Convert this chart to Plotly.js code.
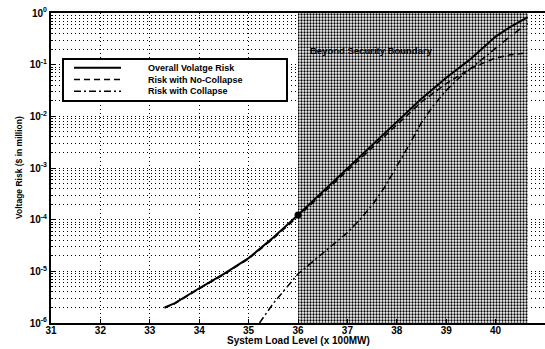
<!DOCTYPE html>
<html>
<head>
<meta charset="utf-8">
<script src="https://cdn.plot.ly/plotly-3.0.1.min.js"></script>
<style>html,body{margin:0;padding:0;background:#fff;}#chart{width:545px;height:349px;}</style>
</head>
<body>
<div id="chart"></div>
<script>
// ---- data ----
const seriesNames = ["Overall Volatge Risk", "Risk with No-Collapse", "Risk with Collapse"];

const xOverall = [33.3, 33.5, 34, 34.5, 35, 35.5, 36, 36.5, 37, 37.5, 38, 38.5, 39, 39.5, 40, 40.3, 40.65];
const yOverall = [2.0e-6, 2.4e-6, 4.7e-6, 8.9e-6, 1.8e-5, 4.5e-5, 1.23e-4, 3.5e-4, 1.0e-3, 2.8e-3, 7.9e-3, 0.022, 0.056, 0.13, 0.35, 0.54, 0.83];

const xNoCollapse = [33.3, 33.5, 34, 34.5, 35, 35.5, 36, 36.5, 37, 37.5, 38, 38.5, 39, 39.5, 40, 40.3, 40.65];
const yNoCollapse = [1.95e-6, 2.35e-6, 4.6e-6, 8.7e-6, 1.75e-5, 4.3e-5, 1.15e-4, 3.2e-4, 9.0e-4, 2.5e-3, 7.0e-3, 0.019, 0.043, 0.085, 0.135, 0.155, 0.17];

const xCollapse = [35.22, 35.5, 36, 36.5, 37, 37.25, 37.5, 37.75, 38, 38.25, 38.5, 38.75, 39, 39.25, 39.5, 39.75, 40, 40.3, 40.65];
const yCollapse = [1.0e-6, 2.4e-6, 8.9e-6, 2.2e-5, 5.6e-5, 1.0e-4, 1.9e-4, 4.2e-4, 1.05e-3, 2.8e-3, 7.6e-3, 0.0166, 0.0316, 0.054, 0.085, 0.132, 0.21, 0.355, 0.63];

// highlighted operating point
const xPoint = [36];
const yPoint = [1.23e-4];

// security-boundary region
const boundaryX = [36, 40.65];
const boundaryLabel = "Beyond Security Boundary";

// axes
const xTickVals = [31, 32, 33, 34, 35, 36, 37, 38, 39, 40, 41];
const xTickText = ["31", "32", "33", "34", "35", "36", "37", "38", "39", "40", "41"];
const yTickVals = [1, 1e-1, 1e-2, 1e-3, 1e-4, 1e-5, 1e-6];
const yTickText = ["10<sup>0</sup>", "10<sup>-1</sup>", "10<sup>-2</sup>", "10<sup>-3</sup>", "10<sup>-4</sup>", "10<sup>-5</sup>", "10<sup>-6</sup>"];
const xTitle = "System Load Level (x 100MW)";
const yTitle = "Voltage Risk ($ in million)";

// ---- chart ----
const FONT = "Liberation Sans, Arial, sans-serif";
const lineStyles = [
  {color: "#000", width: 2, dash: "solid"},
  {color: "#000", width: 1.5, dash: "6px,4px"},
  {color: "#000", width: 1.5, dash: "7px,3px,2px,3px"}
];
const GRID_DASH = "1px,3px";

const traces = [
  {
    x: [boundaryX[0], boundaryX[1], boundaryX[1], boundaryX[0], boundaryX[0]],
    y: [1e-6, 1e-6, 1, 1, 1e-6],
    type: "scatter", mode: "lines", fill: "toself",
    line: {width: 0, color: "rgba(0,0,0,0)"},
    fillcolor: "#ffffff",
    fillpattern: {shape: ".", size: 3, solidity: 0.45, fgcolor: "#000", bgcolor: "#fff"},
    showlegend: false, hoverinfo: "skip"
  },
  {x: xOverall, y: yOverall, name: seriesNames[0], type: "scatter", mode: "lines", line: lineStyles[0], showlegend: false},
  {x: xNoCollapse, y: yNoCollapse, name: seriesNames[1], type: "scatter", mode: "lines", line: lineStyles[1], showlegend: false},
  {x: xCollapse, y: yCollapse, name: seriesNames[2], type: "scatter", mode: "lines", line: lineStyles[2], showlegend: false},
  {x: xPoint, y: yPoint, type: "scatter", mode: "markers", showlegend: false,
   marker: {color: "#000", size: 7}}
];

// legend drawn in paper coordinates (plot area 51..545 x 13..323 px)
const PL = 51, PW = 494, PT = 13, PH = 310;
const px2x = p => (p - PL) / PW;
const px2y = p => 1 - (p - PT) / PH;
const LEG_FONT = 9;
const legendMidPx = 79.5;
const legendStep = LEG_FONT * 1.3;

const shapes = [
  {type: "rect", xref: "paper", yref: "paper",
   x0: px2x(63), x1: px2x(287), y0: px2y(101), y1: px2y(59),
   line: {color: "#000", width: 2}, fillcolor: "#fff", layer: "above"}
];
const annotations = [
  {x: boundaryX[0] + 0.2, y: -0.72, xref: "x", yref: "y", text: boundaryLabel,
   showarrow: false, xanchor: "left", yanchor: "middle",
   font: {family: FONT, size: 9.5, weight: "bold", color: "#000"}},
  {x: 0.5, y: px2y(340), xref: "paper", yref: "paper", text: xTitle, showarrow: false,
   xanchor: "center", yanchor: "middle", font: {family: FONT, size: 10, weight: "bold"}},
  {x: px2x(19), y: 0.5, xref: "paper", yref: "paper", text: yTitle, showarrow: false,
   textangle: -90, xanchor: "center", yanchor: "middle", font: {family: FONT, size: 8.5, weight: "bold"}},
  {x: px2x(147), y: px2y(legendMidPx), xref: "paper", yref: "paper",
   text: seriesNames.join("<br>"), showarrow: false, align: "left",
   xanchor: "left", yanchor: "middle", borderpad: 0,
   font: {family: FONT, size: LEG_FONT, weight: "bold", color: "#000"}}
];
seriesNames.forEach((name, i) => {
  const rowPx = legendMidPx + (i - 1) * legendStep;
  shapes.push({type: "line", xref: "paper", yref: "paper",
    x0: px2x(74), x1: px2x(121), y0: px2y(rowPx), y1: px2y(rowPx),
    line: {color: "#000", width: lineStyles[i].width, dash: lineStyles[i].dash}, layer: "above"});
});

const layout = {
  width: 545, height: 349,
  margin: {l: 51, r: 0, t: 13, b: 26},
  paper_bgcolor: "#fff", plot_bgcolor: "#fff",
  font: {family: FONT, color: "#000", size: 10},
  showlegend: false,
  xaxis: {
    range: [31, 41], tickvals: xTickVals, ticktext: xTickText,
    showline: true, linecolor: "#000", linewidth: 2, mirror: true,
    ticks: "inside", ticklen: 4, tickcolor: "#000", ticklabelstandoff: -3,
    showgrid: true, gridcolor: "#000", gridwidth: 1, griddash: GRID_DASH,
    zeroline: false,
    tickfont: {family: FONT, size: 10, weight: "bold"}
  },
  yaxis: {
    type: "log", range: [-6, 0], tickvals: yTickVals, ticktext: yTickText,
    showline: true, linecolor: "#000", linewidth: 2, mirror: true,
    ticks: "inside", ticklen: 4, tickcolor: "#000",
    showgrid: true, gridcolor: "#000", gridwidth: 1, griddash: GRID_DASH,
    minor: {dtick: "D1", showgrid: true, gridcolor: "#000", gridwidth: 1, griddash: GRID_DASH, ticks: "inside", ticklen: 2, tickcolor: "#000"},
    zeroline: false,
    tickfont: {family: FONT, size: 10, weight: "bold"}
  },
  shapes: shapes,
  annotations: annotations
};

Plotly.newPlot("chart", traces, layout, {displayModeBar: false, staticPlot: true});
</script>
</body>
</html>
